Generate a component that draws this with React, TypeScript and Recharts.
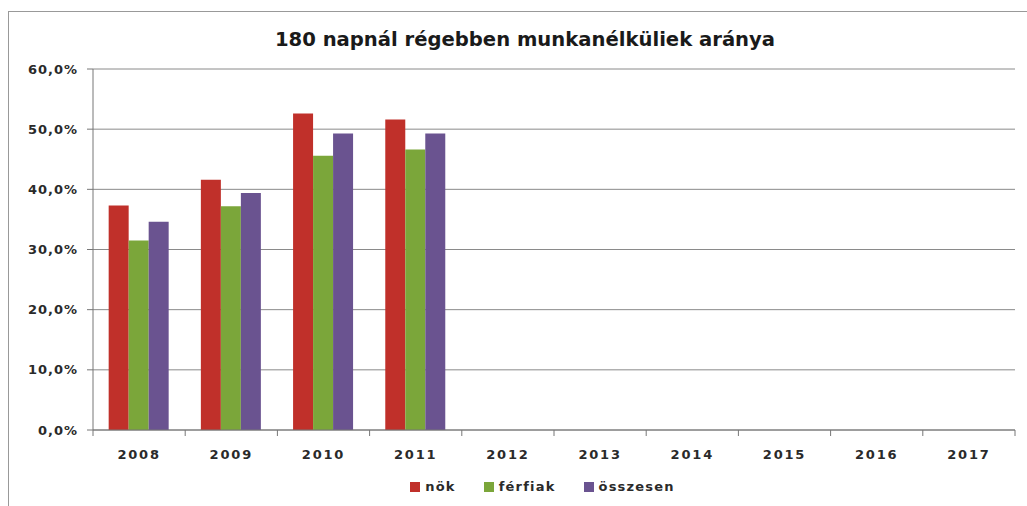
import React from "react";
import { BarChart, Bar, XAxis, YAxis, CartesianGrid, Legend } from "recharts";

const years = ["2008", "2009", "2010", "2011", "2012", "2013", "2014", "2015", "2016", "2017"];
const nok: (number | null)[] = [37.3, 41.6, 52.6, 51.6, null, null, null, null, null, null];
const ferfiak: (number | null)[] = [31.5, 37.2, 45.6, 46.6, null, null, null, null, null, null];
const osszesen: (number | null)[] = [34.6, 39.4, 49.3, 49.3, null, null, null, null, null, null];
const yTicks = [0, 10, 20, 30, 40, 50, 60];
const legendOrder = ["nök", "férfiak", "összesen"];

const data = years.map((y, i) => ({ year: y, nok: nok[i], ferfiak: ferfiak[i], osszesen: osszesen[i] }));

const FONT = "'DejaVu Sans', Verdana, sans-serif";
const fmt = (v: number) => v.toFixed(1).replace(".", ",") + "%";

const XTick = (props: any) => {
  const { x, y, payload, index } = props;
  const off = payload.offset || 0;
  const isLast = index === years.length - 1;
  return (
    <g>
      <line x1={x - off} x2={x - off} y1={y - 8} y2={y - 2} stroke="#777" strokeWidth={1} />
      {isLast && <line x1={x + off} x2={x + off} y1={y - 8} y2={y - 2} stroke="#777" strokeWidth={1} />}
      <text x={x} y={y + 21} textAnchor="middle" fontFamily={FONT} fontWeight="bold" fontSize={13} letterSpacing={1.8} fill="#2a2a2a">
        {payload.value}
      </text>
    </g>
  );
};

const LegendContent = (props: any) => {
  const items = [...(props.payload || [])].sort(
    (a: any, b: any) => legendOrder.indexOf(a.value) - legendOrder.indexOf(b.value)
  );
  return (
    <div style={{ display: "flex", justifyContent: "center", fontFamily: FONT, fontWeight: "bold", fontSize: 13, letterSpacing: 1.2, color: "#2a2a2a" }}>
      {items.map((it: any) => (
        <div key={it.value} style={{ display: "flex", alignItems: "center", margin: "0 14px" }}>
          <span style={{ display: "inline-block", width: 10, height: 10, background: it.color, marginRight: 5 }} />
          <span>{it.value}</span>
        </div>
      ))}
    </div>
  );
};

export default function App() {
  return (
    <div style={{ position: "absolute", left: 0, top: 0, width: 1027, height: 506, background: "#fff" }}>
      <div
        style={{
          position: "absolute",
          left: 8,
          top: 11,
          width: 1030,
          height: 500,
          borderLeft: "1.5px solid #999",
          borderTop: "1.5px solid #999",
        }}
      />
      <div
        style={{
          position: "absolute",
          left: 0,
          width: 1050,
          top: 28,
          textAlign: "center",
          fontFamily: FONT,
          fontWeight: "bold",
          fontSize: 19.6,
          color: "#1a1a1a",
        }}
      >
        180 napnál régebben munkanélküliek aránya
      </div>
      <div style={{ position: "absolute", left: 0, top: 0 }}>
        <BarChart
          width={1027}
          height={506}
          data={data}
          margin={{ top: 69, right: 12, bottom: 31, left: 8 }}
          barCategoryGap="17%"
          barGap={0}
        >
          <CartesianGrid vertical={false} stroke="#8a8a8a" strokeWidth={1} />
          <XAxis
            dataKey="year"
            axisLine={{ stroke: "#777" }}
            tickLine={false}
            tick={<XTick />}
            interval={0}
            height={30}
          />
          <YAxis
            domain={[0, 60]}
            ticks={yTicks}
            tickFormatter={fmt}
            width={85}
            axisLine={{ stroke: "#777" }}
            tickLine={{ stroke: "#777" }}
            tickSize={6}
            tickMargin={9}
            tick={{ fontFamily: FONT, fontWeight: "bold", fontSize: 13, fill: "#2a2a2a", letterSpacing: 1 }}
          />
          <Legend
            verticalAlign="bottom"
            content={<LegendContent />}
            wrapperStyle={{ top: 479, left: 0, width: 1085 }}
          />
          <Bar dataKey="nok" name="nök" fill="#c0302a" isAnimationActive={false} />
          <Bar dataKey="ferfiak" name="férfiak" fill="#7ba63a" isAnimationActive={false} />
          <Bar dataKey="osszesen" name="összesen" fill="#6a5390" isAnimationActive={false} />
        </BarChart>
      </div>
    </div>
  );
}
